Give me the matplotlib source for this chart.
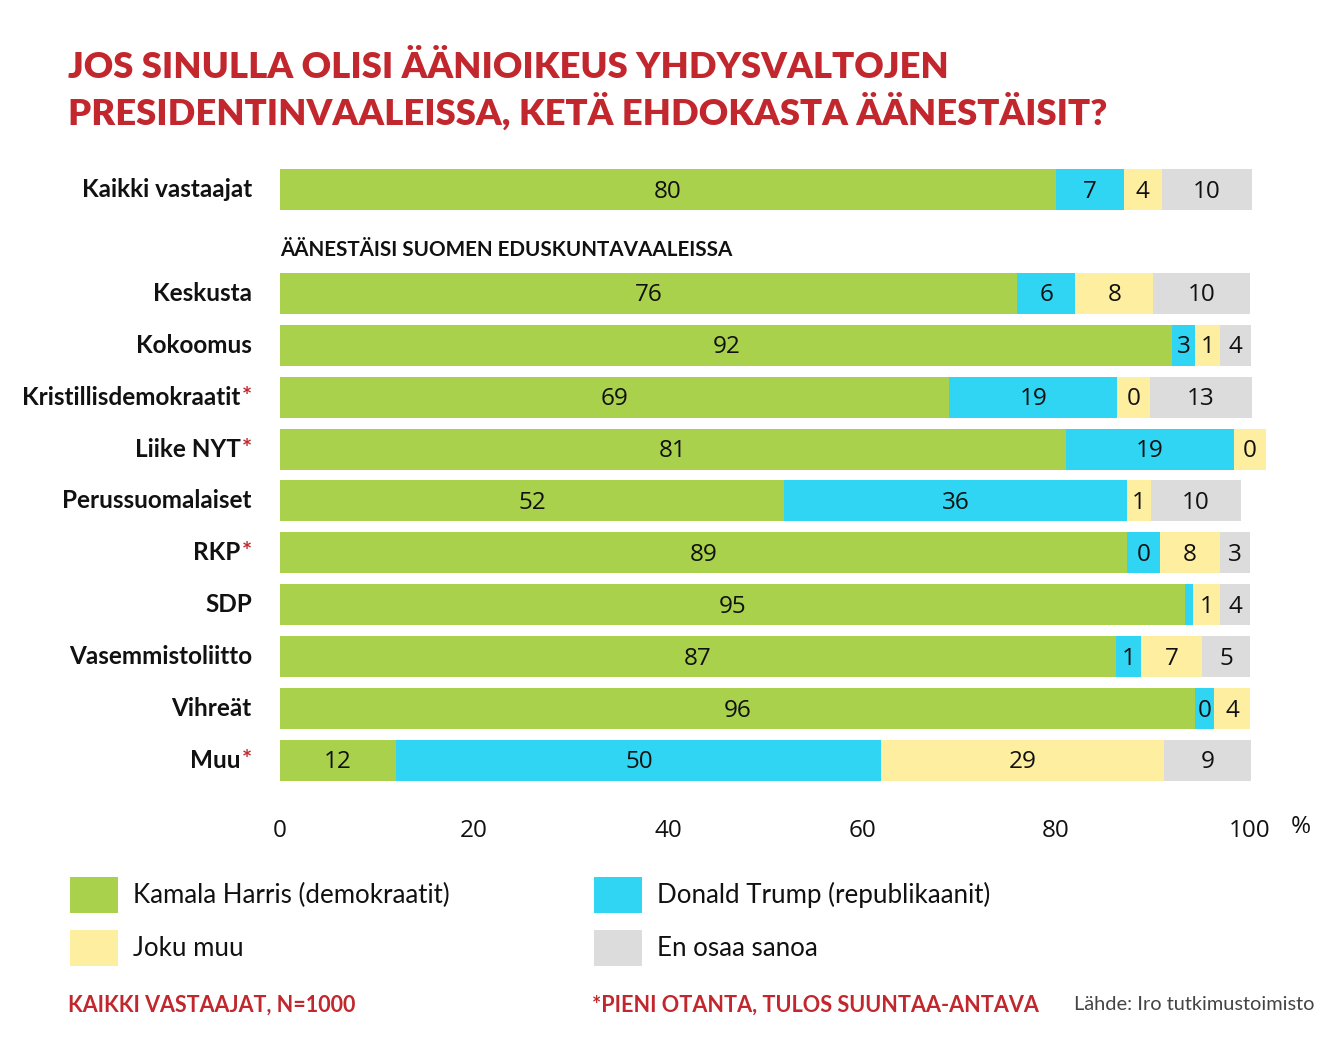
"""Iro: presidential vote preference by Finnish party, stacked bars."""
import matplotlib

matplotlib.use("Agg")
import matplotlib.pyplot as plt

RED = "#c1272d"
COLORS = ["#a9d14b", "#2fd5f3", "#fdeea0", "#dcdcdc"]
SERIES = ["Kamala Harris (demokraatit)", "Donald Trump (republikaanit)",
          "Joku muu", "En osaa sanoa"]

GROUPS = ["Kaikki vastaajat", "Keskusta", "Kokoomus", "Kristillisdemokraatit",
          "Liike NYT", "Perussuomalaiset", "RKP", "SDP", "Vasemmistoliitto",
          "Vihreät", "Muu"]
SMALL_SAMPLE = [False, False, False, True, True, False, True, False, False,
                False, True]
ROW_POS = [0, 2, 3, 4, 5, 6, 7, 8, 9, 10, 11]

# bar lengths as drawn in the original (%), and the numbers printed on them
harris = [80.0, 76.0, 92.0, 69.0, 81.0, 52.0, 87.3, 93.3, 86.2, 94.3, 12.0]
trump = [7.0, 6.0, 2.3, 17.3, 17.3, 35.3, 3.4, 0.8, 2.6, 2.0, 50.0]
other = [3.9, 8.0, 2.6, 3.4, 3.3, 2.5, 6.2, 2.8, 6.3, 3.7, 29.1]
dont_know = [9.3, 10.0, 3.2, 10.5, 0.0, 9.3, 3.1, 3.1, 4.9, 0.0, 9.0]

harris_lbl = ["80", "76", "92", "69", "81", "52", "89", "95", "87", "96", "12"]
trump_lbl = ["7", "6", "3", "19", "19", "36", "0", "", "1", "0", "50"]
other_lbl = ["4", "8", "1", "0", "0", "1", "8", "1", "7", "4", "29"]
dont_know_lbl = ["10", "10", "4", "13", "", "10", "3", "4", "5", "", "9"]

TICKS = [0, 20, 40, 60, 80, 100]

W, H = 1344, 1042
fig = plt.figure(figsize=(W / 100, H / 100), dpi=100)
ax = fig.add_axes([280 / W, 1 - 790 / H, 1067 / W, 630 / H])
ax.set_xlim(0, 110)
ax.set_ylim(11.57, -0.57)
for side in ax.spines.values():
    side.set_visible(False)

num_font = dict(family="Open Sans", fontsize=17.5, color="#111111")
left = [0.0] * len(GROUPS)
for values, labels, color in zip(
    [harris, trump, other, dont_know],
    [harris_lbl, trump_lbl, other_lbl, dont_know_lbl],
    COLORS,
):
    bars = ax.barh(ROW_POS, values, left=left, height=0.79, color=color,
                   linewidth=0)
    for bar, value, start, label in zip(bars, values, left, labels):
        if label:
            txt = ax.text(start + value / 2, bar.get_y() + bar.get_height() / 2
                          + 0.04, label, ha="center", va="center", **num_font)
            txt.set_clip_path(bar)
    left = [a + b for a, b in zip(left, values)]

ax.set_yticks([])
ax.set_xticks(TICKS, [str(t) for t in TICKS])
ax.tick_params(axis="x", length=0, pad=21, labelsize=17.5,
               labelcolor="#111111")
for lab in ax.get_xticklabels():
    lab.set_family("Open Sans")
ax.text(105.2, 12.28, "%", ha="center", va="center", fontsize=17.5,
        family="Open Sans", color="#111111")

label_font = dict(family="Lato", fontweight="bold", fontsize=17.5,
                  color="#111111")
for name, pos, star in zip(GROUPS, ROW_POS, SMALL_SAMPLE):
    x_right = -2.9
    if star:
        ax.text(x_right, pos, "*", ha="right", va="center", color=RED,
                fontsize=17.5, family="Lato", fontweight="bold")
        x_right -= 1.15
    ax.text(x_right, pos, name, ha="right", va="center", **label_font)

ax.text(0, 1.17, "ÄÄNESTÄISI SUOMEN EDUSKUNTAVAALEISSA", ha="left",
        va="center", family="Lato", fontweight="bold", fontsize=14.9,
        color="#111111")

fig.text(68 / W, 1 - 67 / H, "JOS SINULLA OLISI ÄÄNIOIKEUS YHDYSVALTOJEN",
         ha="left", va="center", family="Lato", fontweight="heavy",
         fontsize=26.2, color=RED)
fig.text(68 / W, 1 - 112 / H,
         "PRESIDENTINVAALEISSA, KETÄ EHDOKASTA ÄÄNESTÄISIT?",
         ha="left", va="center", family="Lato", fontweight="heavy",
         fontsize=26.2, color=RED)

legend_spots = [(70, 895), (594, 895), (70, 948), (594, 948)]
for (px, py), name, color in zip(legend_spots, SERIES, COLORS):
    fig.patches.append(plt.Rectangle((px / W, 1 - (py + 18) / H), 48 / W,
                                     36 / H, transform=fig.transFigure,
                                     color=color, linewidth=0))
    fig.text((px + 63) / W, 1 - py / H, name, ha="left", va="center",
             family="Lato", fontsize=18.6, color="#111111")

fig.text(68 / W, 1 - 1005 / H, "KAIKKI VASTAAJAT, N=1000", ha="left",
         va="center", family="Lato", fontweight="bold", fontsize=15.5,
         color=RED)
fig.text(592 / W, 1 - 1005 / H, "*PIENI OTANTA, TULOS SUUNTAA-ANTAVA",
         ha="left", va="center", family="Lato", fontweight="bold",
         fontsize=15.6, color=RED)
fig.text(1314 / W, 1 - 1005 / H, "Lähde: Iro tutkimustoimisto", ha="right",
         va="center", family="Lato", fontsize=14.4, color="#444444")

fig.savefig("out.png", dpi=100, facecolor="white")
